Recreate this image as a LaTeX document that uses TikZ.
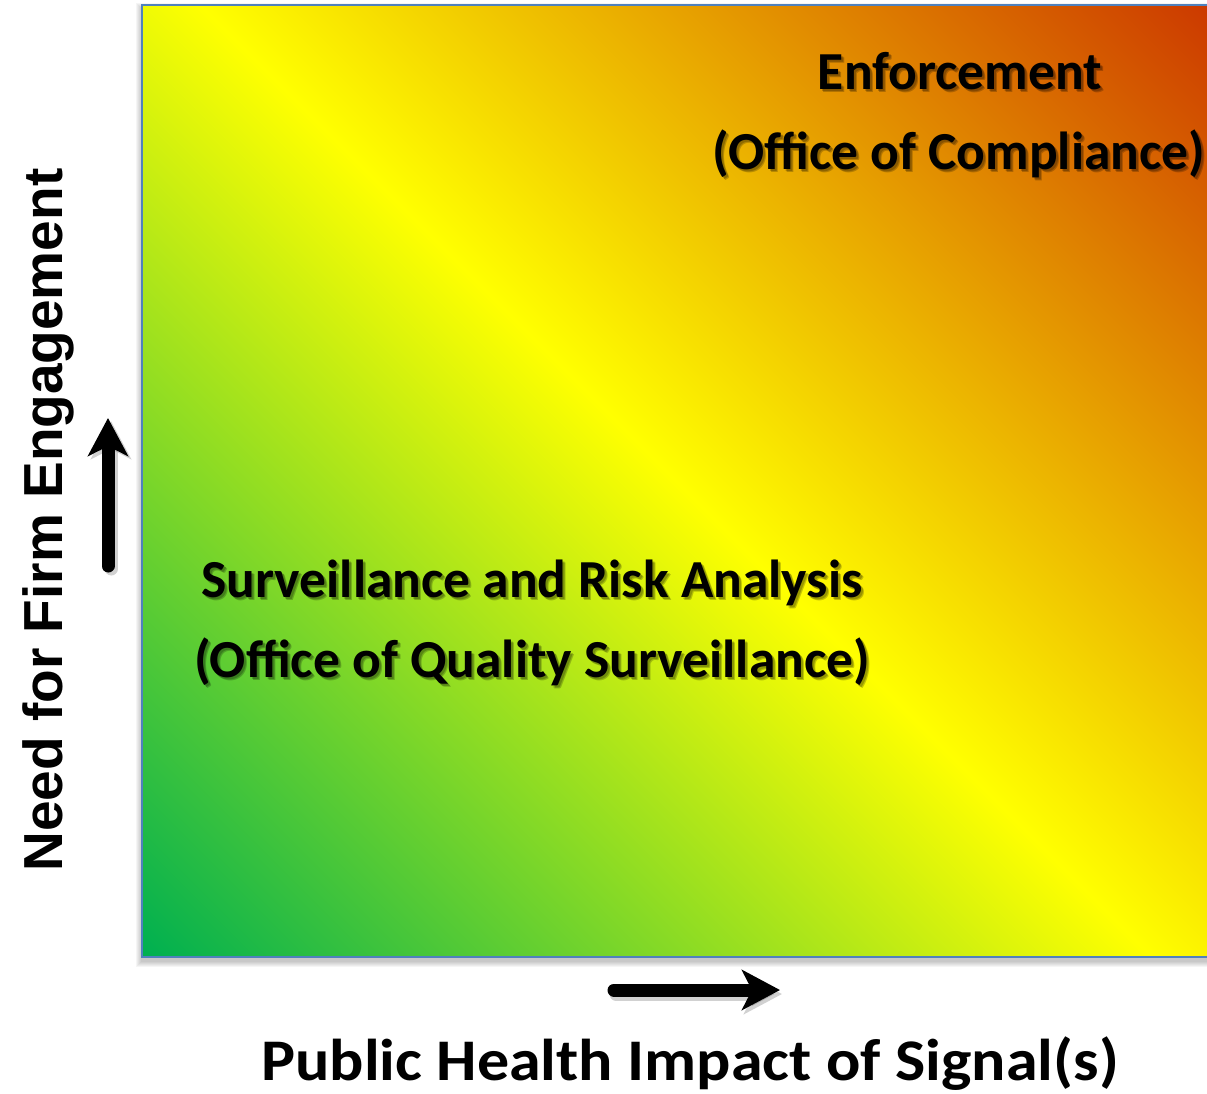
\documentclass[tikz,border=0pt]{standalone}
\usepackage{fontspec}
\setmainfont{Carlito}
\newfontfamily\axisfont{Liberation Sans}
\usetikzlibrary{arrows.meta}
\definecolor{cgreen}{RGB}{0,176,80}
\definecolor{cyellow}{RGB}{255,255,0}
\definecolor{cred}{RGB}{204,58,0}
\definecolor{frameblue}{RGB}{79,129,189}
\pgfdeclarehorizontalshading{heat}{100bp}{color(0bp)=(cgreen); color(14.64bp)=(cgreen); color(50bp)=(cyellow); color(85.36bp)=(cred); color(100bp)=(cred)}
\newcommand\shadowtext[4]{%
  \node[#1, text opacity=0.22] at ([shift={(3,3)}]#3) {#4};
  \node[#1, text opacity=0.22] at ([shift={(2,2)}]#3) {#4};
  \node[#1] (#2) at (#3) {#4};
}
\tikzset{
  inlabel/.style={anchor=base, inner sep=0pt, text=black, font=\fontsize{53.5}{60}\selectfont\bfseries},
  axislabel/.style={anchor=base, inner sep=0pt, text=black},
  bigarrow/.style={line width=13pt, line cap=round, -{Stealth[length=38pt, width=40pt, inset=10pt]}},
  arrowshadow/.style={bigarrow, draw=black, opacity=0.18}
}
\begin{document}
\begin{tikzpicture}[x=1pt,y=-1pt]
\useasboundingbox (0,0) rectangle (1207,1094);
% soft shadow of the panel
\foreach \k in {1,...,6}
  \fill[black, opacity=0.04] (142-\k, 9-\k) rectangle (1215, 961+\k);
% gradient panel
\shade[shading=heat, shading angle=45] (142,5) rectangle (1209,957);
\draw[frameblue, line width=2pt] (142,5) rectangle (1209,957);
% labels inside
\shadowtext{inlabel}{enf}{960,90}{Enforcement}
\shadowtext{inlabel}{oc}{959,170}{(Office of Compliance)}
\shadowtext{inlabel}{sra}{532,597}{Surveillance and Risk Analysis}
\shadowtext{inlabel}{oqs}{532,677}{(Office of Quality Surveillance)}
% axis arrows
\coordinate (hs) at (614,990);
\coordinate (he) at (780,990);
\coordinate (vs) at (108,566);
\coordinate (ve) at (108,418);
\draw[arrowshadow] ([shift={(2,4)}]hs) -- ([shift={(2,4)}]he);
\draw[arrowshadow] ([shift={(3,3)}]vs) -- ([shift={(3,3)}]ve);
\draw[bigarrow] (hs) -- (he);
\draw[bigarrow] (vs) -- (ve);
% axis labels
\node[axislabel, font=\fontsize{59}{66}\selectfont\bfseries] (xl) at (690,1080) {\scalebox{1.085}[1]{Public Health Impact of Signal(s)}};
\node[axislabel, rotate=90, font=\axisfont\fontsize{55}{62}\selectfont\bfseries] (yl) at (62,520) {Need for Firm Engagement};
\end{tikzpicture}
\end{document}
